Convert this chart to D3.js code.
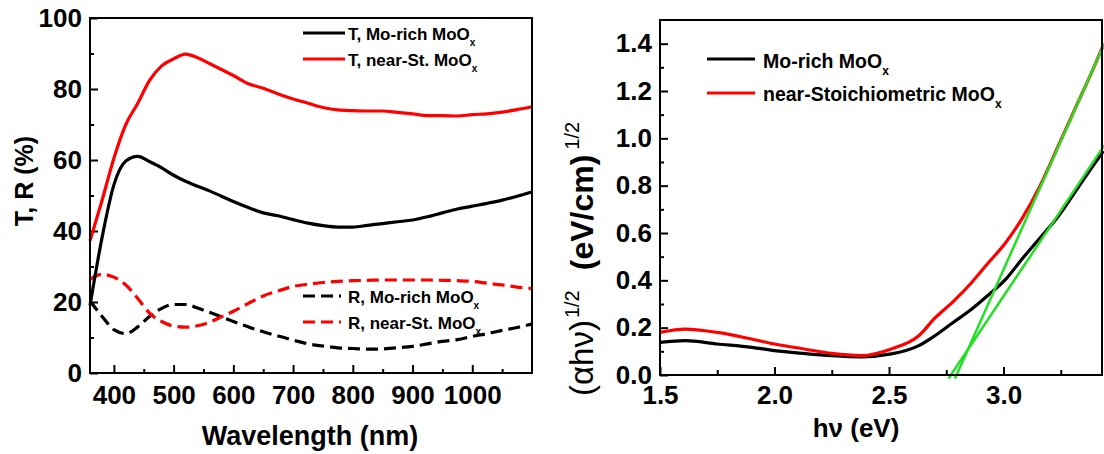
<!DOCTYPE html>
<html>
<head>
<meta charset="utf-8">
<script src="https://cdn.jsdelivr.net/npm/d3@7"></script>
<style>
  html, body { margin: 0; padding: 0; background: #fff; }
  svg { display: block; font-family: "Liberation Sans", Arial, sans-serif; font-weight: bold; }
</style>
</head>
<body>
<svg id="chart" width="1104" height="454"></svg>
<script>
// ---------- Left panel data: transmittance / reflectance vs wavelength ----------
const wavelength = [360, 380, 400, 420, 440, 460, 480, 500, 520, 540, 560, 580, 600, 625, 650, 675, 700, 725, 750, 775, 800, 825, 850, 875, 900, 925, 950, 975, 1000, 1025, 1050, 1075, 1100];
const tMoRich  = [19, 38, 53, 59.7, 61, 59.5, 57.8, 55.7, 54, 52.6, 51.3, 49.8, 48.3, 46.6, 45.1, 44.3, 43.2, 42.2, 41.5, 41.1, 41.1, 41.6, 42.1, 42.6, 43.1, 44, 45.1, 46.2, 47, 47.8, 48.7, 49.8, 51];
const tNearSt  = [37.2, 48.5, 60.5, 70, 76, 82.5, 86.5, 88.5, 89.8, 88.8, 87.2, 85.5, 83.8, 81.5, 80.2, 78.6, 77.2, 76, 74.8, 74.1, 73.9, 73.8, 73.8, 73.4, 73, 72.5, 72.5, 72.4, 72.8, 73, 73.5, 74.2, 75];
const rMoRich  = [20.3, 16, 12.2, 11.1, 13, 16, 18.2, 19.3, 19.3, 18.3, 17.1, 15.8, 14.5, 13, 11.6, 10.4, 9.3, 8.2, 7.6, 7.1, 6.9, 6.7, 6.8, 7.1, 7.5, 8.2, 8.9, 9.4, 10.3, 11.1, 12, 12.8, 13.8];
const rNearSt  = [26.4, 27.8, 27, 24.8, 21, 16.8, 14.5, 13.2, 12.9, 13.3, 14.3, 15.8, 17.4, 19.6, 21.7, 23.1, 24.4, 25, 25.5, 25.8, 26, 26.1, 26.2, 26.2, 26.2, 26.2, 26.1, 26, 25.8, 25.3, 24.8, 24.2, 23.8];
const leftXTicks = [400, 500, 600, 700, 800, 900, 1000];
const leftXMinor = [450, 550, 650, 750, 850, 950, 1050];
const leftYTicks = [0, 20, 40, 60, 80, 100];
const leftYMinor = [10, 30, 50, 70, 90];

// ---------- Right panel data: Tauc plot ----------
const photonEnergy = [1.5, 1.61, 1.75, 1.9, 2.0, 2.13, 2.25, 2.38, 2.51, 2.63, 2.70, 2.78, 2.86, 2.93, 3.01, 3.08, 3.16, 3.24, 3.31, 3.39, 3.436];
const taucMoRich = [0.138, 0.145, 0.131, 0.117, 0.103, 0.091, 0.082, 0.077, 0.089, 0.124, 0.166, 0.222, 0.278, 0.335, 0.405, 0.489, 0.58, 0.672, 0.77, 0.883, 0.946];
const taucNearSt = [0.18, 0.194, 0.18, 0.152, 0.131, 0.11, 0.091, 0.082, 0.11, 0.166, 0.24, 0.31, 0.39, 0.47, 0.56, 0.66, 0.80, 0.97, 1.12, 1.29, 1.395];
const fitNearStE = [2.788, 3.44];
const fitNearStV = [-0.015, 1.40];
const fitMoRichE = [2.760, 3.44];
const fitMoRichV = [-0.015, 0.97];
const rightXTicks = [1.5, 2.0, 2.5, 3.0];
const rightXMinor = [1.75, 2.25, 2.75, 3.25];
const rightYTicks = [0, 0.2, 0.4, 0.6, 0.8, 1.0, 1.2, 1.4];
const rightYMinor = [0.1, 0.3, 0.5, 0.7, 0.9, 1.1, 1.3];

const RED = "#ff0000", BLACK = "#000000", GREEN = "#22e022";
const svg = d3.select("#chart");

function styleAxis(g, fontSize) {
  g.select(".domain").remove();
  g.selectAll(".tick line").attr("stroke", "#000").attr("stroke-width", 2);
  g.selectAll("text").attr("fill", "#000").attr("font-size", fontSize)
    .attr("font-family", "'Liberation Sans', Arial, sans-serif").attr("font-weight", "bold");
}

// ================= LEFT PANEL =================
const L = { x0: 90, x1: 532, y0: 18, y1: 373 };
const xL = d3.scaleLinear().domain([360, 1100]).range([L.x0, L.x1]);
const yL = d3.scaleLinear().domain([0, 100]).range([L.y1, L.y0]);

const gL = svg.append("g");
gL.append("g").attr("transform", `translate(0,${L.y1})`)
  .call(d3.axisBottom(xL).tickValues(leftXTicks).tickSize(-8).tickSizeOuter(0).tickPadding(13).tickFormat(d3.format("d")))
  .call(g => styleAxis(g, 26));
gL.append("g").attr("transform", `translate(0,${L.y1})`)
  .call(d3.axisBottom(xL).tickValues(leftXMinor).tickSize(-4).tickSizeOuter(0).tickFormat(""))
  .call(g => styleAxis(g, 26));
gL.append("g").attr("transform", `translate(${L.x0},0)`)
  .call(d3.axisLeft(yL).tickValues(leftYTicks).tickSize(-8).tickSizeOuter(0).tickPadding(8).tickFormat(d3.format("d")))
  .call(g => styleAxis(g, 26));
gL.append("g").attr("transform", `translate(${L.x0},0)`)
  .call(d3.axisLeft(yL).tickValues(leftYMinor).tickSize(-4).tickSizeOuter(0).tickFormat(""))
  .call(g => styleAxis(g, 26));

const lineL = d3.line().x(d => xL(d[0])).y(d => yL(d[1])).curve(d3.curveMonotoneX);
const zipL = arr => wavelength.map((w, i) => [w, arr[i]]);
const leftSeries = [
  { v: rMoRich, c: BLACK, dash: "12,6" },
  { v: rNearSt, c: RED, dash: "12,6" },
  { v: tMoRich, c: BLACK, dash: null },
  { v: tNearSt, c: RED, dash: null }
];
leftSeries.forEach(s => {
  gL.append("path").attr("d", lineL(zipL(s.v))).attr("fill", "none")
    .attr("stroke", s.c).attr("stroke-width", 3.2)
    .attr("stroke-dasharray", s.dash);
});
gL.append("rect").attr("x", L.x0).attr("y", L.y0).attr("width", L.x1 - L.x0).attr("height", L.y1 - L.y0)
  .attr("fill", "none").attr("stroke", "#000").attr("stroke-width", 2);

// legends (left)
const leftLegend = [
  { label: "T, Mo-rich MoO", c: BLACK, dash: null, ly: 33, ty: 40, x2: 345 },
  { label: "T, near-St. MoO", c: RED, dash: null, ly: 59, ty: 66, x2: 345 },
  { label: "R, Mo-rich MoO", c: BLACK, dash: "12,6", ly: 296, ty: 303, x2: 341 },
  { label: "R, near-St. MoO", c: RED, dash: "12,6", ly: 322, ty: 329, x2: 341 }
];
leftLegend.forEach(d => {
  gL.append("line").attr("x1", 303).attr("x2", d.x2).attr("y1", d.ly).attr("y2", d.ly)
    .attr("stroke", d.c).attr("stroke-width", 3.2).attr("stroke-dasharray", d.dash);
  const t = gL.append("text").attr("x", 348).attr("y", d.ty).attr("font-size", 17).attr("fill", "#000");
  t.append("tspan").text(d.label);
  t.append("tspan").attr("font-size", 10).attr("dy", 6).text("x");
});

// axis titles (left)
gL.append("text").attr("x", 310).attr("y", 445).attr("text-anchor", "middle")
  .attr("font-size", 27).text("Wavelength (nm)");
gL.append("text").attr("transform", "translate(33,181) rotate(-90)").attr("text-anchor", "middle")
  .attr("font-size", 25).text("T, R (%)");

// ================= RIGHT PANEL =================
const R = { x0: 660, x1: 1102, y0: 20, y1: 375 };
const xR = d3.scaleLinear().domain([1.5, 3.43]).range([R.x0, R.x1]);
const yR = d3.scaleLinear().domain([0, 1.5]).range([R.y1, R.y0]);

const gR = svg.append("g");
gR.append("g").attr("transform", `translate(0,${R.y1})`)
  .call(d3.axisBottom(xR).tickValues(rightXTicks).tickSize(-8).tickSizeOuter(0).tickPadding(11).tickFormat(d3.format(".1f")))
  .call(g => styleAxis(g, 26));
gR.append("g").attr("transform", `translate(0,${R.y1})`)
  .call(d3.axisBottom(xR).tickValues(rightXMinor).tickSize(-5).tickSizeOuter(0).tickFormat(""))
  .call(g => styleAxis(g, 26));
gR.append("g").attr("transform", `translate(${R.x0},0)`)
  .call(d3.axisLeft(yR).tickValues(rightYTicks).tickSize(-8).tickSizeOuter(0).tickPadding(8).tickFormat(d3.format(".1f")))
  .call(g => styleAxis(g, 26));
gR.append("g").attr("transform", `translate(${R.x0},0)`)
  .call(d3.axisLeft(yR).tickValues(rightYMinor).tickSize(-4).tickSizeOuter(0).tickFormat(""))
  .call(g => styleAxis(g, 26));

const lineR = d3.line().x(d => xR(d[0])).y(d => yR(d[1])).curve(d3.curveMonotoneX);
const zipR = arr => photonEnergy.map((e, i) => [e, arr[i]]);
gR.append("path").attr("d", lineR(zipR(taucMoRich))).attr("fill", "none").attr("stroke", BLACK).attr("stroke-width", 3.2);
gR.append("path").attr("d", lineR(zipR(taucNearSt))).attr("fill", "none").attr("stroke", RED).attr("stroke-width", 3.2);
const lineFit = d3.line().x(d => xR(d[0])).y(d => yR(d[1]));
gR.append("path").attr("d", lineFit(fitNearStE.map((e, i) => [e, fitNearStV[i]]))).attr("fill", "none").attr("stroke", GREEN).attr("stroke-width", 2.5);
gR.append("path").attr("d", lineFit(fitMoRichE.map((e, i) => [e, fitMoRichV[i]]))).attr("fill", "none").attr("stroke", GREEN).attr("stroke-width", 2.5);

gR.append("rect").attr("x", R.x0).attr("y", R.y0).attr("width", R.x1 - R.x0).attr("height", R.y1 - R.y0)
  .attr("fill", "none").attr("stroke", "#000").attr("stroke-width", 2);

// legend (right)
const rightLegend = [
  { label: "Mo-rich MoO", c: BLACK, ly: 59, ty: 68 },
  { label: "near-Stoichiometric MoO", c: RED, ly: 93, ty: 101 }
];
rightLegend.forEach(d => {
  gR.append("line").attr("x1", 707).attr("x2", 755).attr("y1", d.ly).attr("y2", d.ly)
    .attr("stroke", d.c).attr("stroke-width", 3.2);
  const t = gR.append("text").attr("x", 763).attr("y", d.ty).attr("font-size", 19.5).attr("fill", "#000");
  t.append("tspan").text(d.label);
  t.append("tspan").attr("font-size", 12).attr("dy", 7).text("x");
});

// axis titles (right)
gR.append("text").attr("x", 856).attr("y", 437).attr("text-anchor", "middle")
  .attr("font-size", 26).text("h\u03bd (eV)");
const yt = gR.append("text").attr("transform", "translate(593,396) rotate(-90)").attr("font-size", 32);
yt.append("tspan").attr("font-weight", "normal").attr("font-size", 33).text("(\u03b1h\u03bd)");
yt.append("tspan").attr("font-size", 20).attr("dy", -14).attr("dx", 2).attr("font-weight", "normal").text("1/2");
yt.append("tspan").attr("dy", 14).attr("dx", 20).text("(eV/cm)");
yt.append("tspan").attr("font-size", 20).attr("dy", -14).attr("dx", 5).attr("font-weight", "normal").text("1/2");
</script>
</body>
</html>
